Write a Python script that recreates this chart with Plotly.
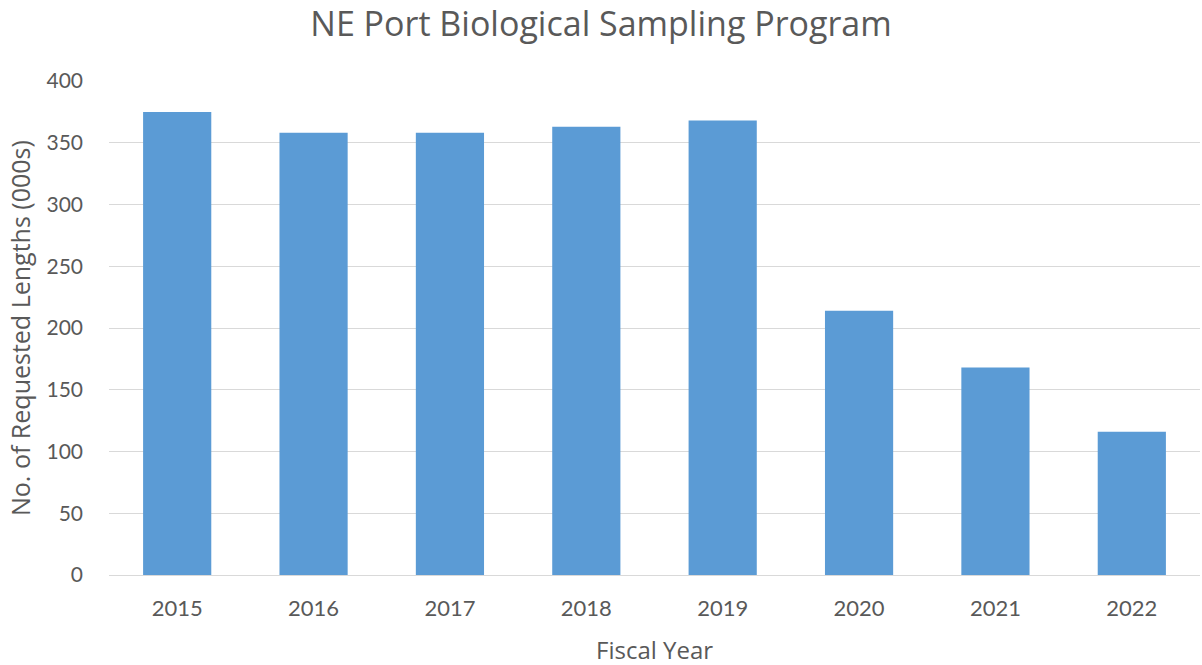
import plotly.graph_objects as go

years = ["2015", "2016", "2017", "2018", "2019", "2020", "2021", "2022"]
lengths = [375, 358, 358, 363, 368, 214, 168, 116]

TXT = "#595959"

fig = go.Figure(go.Bar(
    x=years, y=lengths,
    marker=dict(color="#5B9BD5", line=dict(width=0)),
    width=0.5,
))

fig.update_layout(
    width=1202, height=665,
    margin=dict(l=109, r=2, t=81, b=90),
    plot_bgcolor="white", paper_bgcolor="white",
    showlegend=False,
    title=dict(text="NE Port Biological Sampling Program", x=0.5, xref="container",
               xanchor="center", yref="container", y=0.964, yanchor="middle",
               font=dict(family="Open Sans", size=34, color=TXT)),
    font=dict(family="Lato", color=TXT),
    annotations=[
        dict(text="No. of Requested Lengths (000s)", textangle=-90,
             xref="paper", yref="paper", x=0, y=0.5, xanchor="center", yanchor="middle",
             xshift=-89, showarrow=False, borderpad=0,
             font=dict(family="Open Sans", size=25, color=TXT)),
        dict(text="Fiscal Year",
             xref="paper", yref="paper", x=0.5, y=0, xanchor="center", yanchor="middle",
             yshift=-74, showarrow=False, borderpad=0,
             font=dict(family="Open Sans", size=24, color=TXT)),
    ],
)
fig.update_xaxes(
    automargin=False,
    tickfont=dict(family="Lato", size=22, color=TXT),
    showgrid=False, showline=True, linecolor="#D9D9D9", linewidth=1,
    ticks="", ticklabelstandoff=14,
)
fig.update_yaxes(
    automargin=False,
    tickfont=dict(family="Lato", size=21, color=TXT),
    range=[0, 400], dtick=50, showgrid=True, gridcolor="#D9D9D9", gridwidth=1,
    zeroline=False, showline=False, ticks="", ticklabelstandoff=25,
)

fig.write_html("out.html", config={"displayModeBar": False},
               post_script="document.body.style.margin='0';document.body.style.overflow='hidden';")
